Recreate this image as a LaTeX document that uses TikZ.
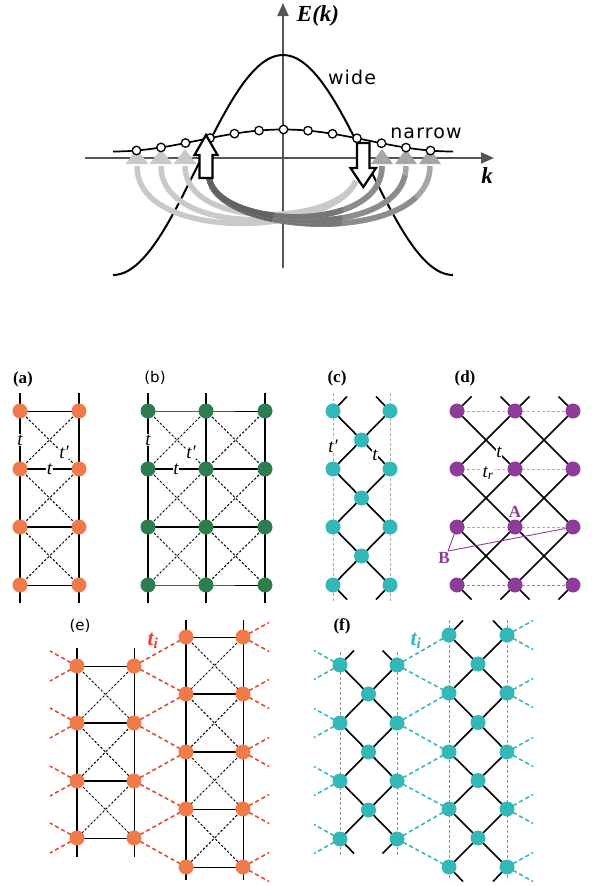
\documentclass[tikz,border=0pt]{standalone}
\usepackage{fontspec}
\setmainfont{Liberation Serif}
\newfontfamily\plotsans[LetterSpace=6]{DejaVu Sans}
\newfontfamily\lblsans{DejaVu Sans}
\usetikzlibrary{arrows.meta}
\pgfdeclarelayer{bg}
\pgfsetlayers{bg,main}
\definecolor{orng}{HTML}{F07A4A}
\definecolor{grn}{HTML}{2E7D4F}
\definecolor{cyn}{HTML}{33B7B7}
\definecolor{prp}{HTML}{8E3C99}
\definecolor{redd}{HTML}{E8452C}
\definecolor{axg}{HTML}{555555}
\definecolor{lgt}{HTML}{C9C9C9}
\definecolor{dk1}{HTML}{626262}
\definecolor{dk2}{HTML}{767676}
\definecolor{dk3}{HTML}{8C8C8C}
\definecolor{dk4}{HTML}{A6A6A6}
\tikzset{
  site/.style={circle, inner sep=0pt, minimum size=15pt, fill=#1, draw=none},
  ring/.style={circle, inner sep=0pt, minimum size=8.5pt, draw=black, line width=1.3pt, fill=white},
  rail/.style={line width=1.3pt},
  fatrail/.style={line width=2.2pt},
  thinrung/.style={line width=0.9pt},
  fatrung/.style={line width=1.9pt},
  midrung/.style={line width=1.2pt},
  xdash/.style={dash pattern=on 2.4pt off 1.8pt, line width=1pt},
  grayrail/.style={draw=gray!65, dash pattern=on 3pt off 2pt, line width=1pt},
  darkrail/.style={draw=gray!90, dash pattern=on 3pt off 2pt, line width=1pt},
  chainbond/.style={line width=1.6pt},
  ibond/.style={dash pattern=on 4pt off 3pt, line width=1.6pt},
  hop/.style={font=\itshape\fontsize{19}{19}\selectfont, inner sep=0.6pt},
  whop/.style={hop, fill=white},
  plabel/.style={font=\bfseries\fontsize{17}{17}\selectfont},
  slabel/.style={font=\lblsans\fontsize{15}{15}\selectfont},
  axisline/.style={draw=axg, line width=2pt, -{Triangle[length=13pt,width=11pt]}},
  curve/.style={line width=2pt},
  arcw/.style={line width=5.5pt},
  blockarrow/.style={draw=black, line width=2.2pt, fill=white, line join=miter},
}
\newcommand\darkarc[3]{%
  \foreach \col/\dp in {dk4/3000pt, dk3/230pt, dk2/150pt, dk1/80pt} {
    \draw[arcw, draw=\col, dash pattern=on \dp off 3000pt] (ua) .. controls (215,#1) and (#3,#2) .. (#3,166);
  }}
\begin{document}
\begin{tikzpicture}[x=1pt,y=-1pt]
\useasboundingbox (0,0) rectangle (596,886);

% ================= top plot =================
\coordinate (vB) at (283,268); \coordinate (vT) at (283,3);
\coordinate (hL) at (85,158); \coordinate (hR) at (494,158);
\draw[axisline] (vB) -- (vT);
\draw[axisline] (hL) -- (hR);
\draw[curve] plot[domain=113:453, samples=90, smooth] (\x,{165-110*cos(1.0588235*(\x-283))});
\node[font=\bfseries\itshape\fontsize{23}{23}\selectfont] (Ek) at (318,16) {E(k)};
\node[font=\bfseries\itshape\fontsize{23}{23}\selectfont] (klab) at (487,176) {k};
\node[font=\plotsans\fontsize{19}{19}\selectfont] (wide) at (352,77) {wide};
\node[font=\plotsans\fontsize{19}{19}\selectfont] (narrow) at (426,133) {narrow};

\coordinate (ua) at (209,177);
\coordinate (da) at (356,181);
% light arcs (down arrow -> left)
\draw[arcw, lgt] (da) .. controls (336,226) and (185,230) .. (185,166);
\draw[arcw, lgt] (da) .. controls (334,232) and (161,238) .. (161,166);
\draw[arcw, lgt] (da) .. controls (332,236) and (137,244) .. (137,166);
% dark arcs (up arrow -> right)
\darkarc{236}{247}{430}
\darkarc{232}{242}{406}
\darkarc{228}{236}{382}
\foreach \x in {137,161,185} \fill[lgt] ({\x-11.5},164) -- (\x,149) -- ({\x+11.5},164) -- cycle;
\foreach \x in {382,406,430} \fill[dk4] ({\x-11},164) -- (\x,149) -- ({\x+11},164) -- cycle;

\draw[line width=1.7pt] plot[domain=113:453, samples=60, smooth] (\x,{140.5-11*cos(1.0588235*(\x-283))});
\foreach \n in {-6,...,6} {
  \pgfmathsetmacro\cx{283.5+24.5*\n}
  \pgfmathsetmacro\cy{140.5-11*cos(1.0588235*(\cx-283))}
  \node[ring] (c\n) at (\cx,\cy) {};
}
\draw[blockarrow] (199.5,178) -- (199.5,155) -- (194.5,155) -- (206,135) -- (217.5,155) -- (212.5,155) -- (212.5,178) -- cycle;
\draw[blockarrow] (357,143) -- (369.5,143) -- (369.5,168) -- (376,168) -- (363.25,187) -- (350.5,168) -- (357,168) -- cycle;

% ================= (a) =================
\node[plabel] (la) at (23,379) {(a)};
\foreach \r [count=\i] in {411,469,527,585} {
  \node[site=orng] (aL\i) at (20,\r) {};
  \node[site=orng] (aR\i) at (79,\r) {};
}
\coordinate (aLt) at (20,393); \coordinate (aLb) at (20,603);
\coordinate (aRt) at (79,393); \coordinate (aRb) at (79,603);
\begin{pgfonlayer}{bg}
\draw[rail] (aLt) -- (aLb);
\draw[rail] (aRt) -- (aRb);
\foreach \i/\st in {1/thinrung,2/fatrung,3/fatrung,4/thinrung}
  \draw[\st] (aL\i.center) -- (aR\i.center);
\foreach \i in {1,2,3} {
  \pgfmathtruncatemacro\k{\i+1}
  \draw[xdash] (aL\i.center) -- (aR\k.center);
  \draw[xdash] (aR\i.center) -- (aL\k.center);
}
\end{pgfonlayer}
\node[whop] (at1) at (20,440) {t};
\node[whop] (at2) at (49.5,469) {t};
\node[whop] (at3) at (64,452) {t′};

% ================= (b) =================
\node[slabel] (lb) at (155,378) {(b)};
\foreach \r [count=\i] in {411,469,527,585} {
  \foreach \x [count=\j] in {148,206,265} {
    \node[site=grn] (b\j-\i) at (\x,\r) {};
  }
}
\foreach \x [count=\j] in {148,206,265} {
  \coordinate (bT\j) at (\x,393); \coordinate (bB\j) at (\x,603);
}
\begin{pgfonlayer}{bg}
\draw[rail] (bT1) -- (bB1);
\draw[fatrail] (bT2) -- (bB2);
\draw[rail] (bT3) -- (bB3);
\foreach \i/\st in {1/thinrung,2/fatrung,3/midrung,4/thinrung}
  \draw[\st] (b1-\i.center) -- (b2-\i.center) -- (b3-\i.center);
\foreach \i in {1,2,3} {
  \pgfmathtruncatemacro\k{\i+1}
  \foreach \j in {1,2} {
    \pgfmathtruncatemacro\m{\j+1}
    \draw[xdash] (b\j-\i.center) -- (b\m-\k.center);
    \draw[xdash] (b\m-\i.center) -- (b\j-\k.center);
  }
}
\end{pgfonlayer}
\node[whop] (bt1) at (148,440) {t};
\node[whop] (bt2) at (176,469) {t};
\node[whop] (bt3) at (191,452) {t′};

% ================= (c) =================
\node[plabel] (lc) at (337,378) {(c)};
\foreach \r [count=\i] in {411,469,527,585} {
  \node[site=cyn] (cL\i) at (333,\r) {};
  \node[site=cyn] (cR\i) at (390,\r) {};
}
\foreach \r [count=\i] in {440,498,556} {
  \node[site=cyn] (cM\i) at (361.5,\r) {};
}
\coordinate (cLt) at (333,393); \coordinate (cLb) at (333,603);
\coordinate (cRt) at (390,393); \coordinate (cRb) at (390,603);
\coordinate (cs1) at (347,396.5); \coordinate (cs2) at (376,396.5);
\coordinate (cs3) at (347,599.5); \coordinate (cs4) at (376,599.5);
\begin{pgfonlayer}{bg}
\draw[grayrail] (cLt) -- (cLb);
\draw[grayrail] (cRt) -- (cRb);
\foreach \i in {1,2,3} {
  \pgfmathtruncatemacro\k{\i+1}
  \draw[chainbond] (cL\i.center) -- (cM\i.center) -- (cR\k.center);
  \draw[chainbond] (cR\i.center) -- (cM\i.center) -- (cL\k.center);
}
\draw[chainbond] (cL1.center) -- (cs1);
\draw[chainbond] (cR1.center) -- (cs2);
\draw[chainbond] (cL4.center) -- (cs3);
\draw[chainbond] (cR4.center) -- (cs4);
\end{pgfonlayer}
\node[whop] (ct1) at (333,446) {t′};
\node[whop] (ct2) at (375,455) {t};

% ================= (d) =================
\node[plabel] (ld) at (465,378) {(d)};
\foreach \r [count=\i] in {411,469,527,585} {
  \foreach \x [count=\j] in {457,515,573} {
    \node[site=prp] (d\j-\i) at (\x,\r) {};
  }
}
\coordinate (ds1) at (471.5,396.5); \coordinate (ds2) at (500.5,396.5);
\coordinate (ds3) at (529.5,396.5); \coordinate (ds4) at (558.5,396.5);
\coordinate (ds5) at (471.5,599.5); \coordinate (ds6) at (500.5,599.5);
\coordinate (ds7) at (529.5,599.5); \coordinate (ds8) at (558.5,599.5);
\begin{pgfonlayer}{bg}
\foreach \i in {1,2,3}
  \draw[grayrail] (d1-\i.center) -- (d2-\i.center) -- (d3-\i.center);
\draw[darkrail] (d1-4.center) -- (d2-4.center) -- (d3-4.center);
\foreach \i in {1,2,3} {
  \pgfmathtruncatemacro\k{\i+1}
  \foreach \j in {1,2} {
    \pgfmathtruncatemacro\m{\j+1}
    \draw[chainbond] (d\j-\i.center) -- (d\m-\k.center);
    \draw[chainbond] (d\m-\i.center) -- (d\j-\k.center);
  }
}
\draw[chainbond] (d1-1.center) -- (ds1);
\draw[chainbond] (d2-1.center) -- (ds2);
\draw[chainbond] (d2-1.center) -- (ds3);
\draw[chainbond] (d3-1.center) -- (ds4);
\draw[chainbond] (d1-4.center) -- (ds5);
\draw[chainbond] (d2-4.center) -- (ds6);
\draw[chainbond] (d2-4.center) -- (ds7);
\draw[chainbond] (d3-4.center) -- (ds8);
\end{pgfonlayer}
\node[whop] (dt1) at (499,452) {t};
\node[whop] (dt2) at (488,473) {t\textsubscript{\itshape r}};
\node[font=\bfseries\fontsize{17}{17}\selectfont, text=prp, inner sep=0.5pt] (Alab) at (515,512) {A};
\node[font=\bfseries\fontsize{17}{17}\selectfont, text=prp, inner sep=0.5pt] (Blab) at (444,558) {B};
\coordinate (Bpt) at (448,551);
\draw[prp, line width=0.9pt] (Bpt) -- (d1-3);
\draw[prp, line width=0.9pt] (Bpt) -- (d3-3);

% ================= (e) =================
\node[slabel] (le) at (80,626) {(e)};
\foreach \r [count=\i] in {666,723,781,838} {
  \node[site=orng] (eA\i) at (77,\r) {};
  \node[site=orng] (eB\i) at (134,\r) {};
  \coordinate (eAu\i) at (50,{\r-15});
  \coordinate (eAd\i) at (50,{\r+15});
}
\foreach \r [count=\i] in {637,694,752,809,867} {
  \node[site=orng] (eC\i) at (186,\r) {};
  \node[site=orng] (eD\i) at (243,\r) {};
  \coordinate (eDu\i) at (269,{\r-14.5});
  \coordinate (eDd\i) at (269,{\r+14.5});
}
\coordinate (eAt) at (77,648); \coordinate (eAb) at (77,857);
\coordinate (eBt) at (134,648); \coordinate (eBb) at (134,857);
\coordinate (eCt) at (186,620); \coordinate (eCb) at (186,880);
\coordinate (eDt) at (243,620); \coordinate (eDb) at (243,880);
\begin{pgfonlayer}{bg}
\draw[fatrail] (eAt) -- (eAb);
\draw[thinrung] (eBt) -- (eBb);
\draw[fatrail] (eCt) -- (eCb);
\draw[thinrung] (eDt) -- (eDb);
\foreach \i/\st in {1/thinrung,2/fatrung,3/fatrung,4/thinrung}
  \draw[\st] (eA\i.center) -- (eB\i.center);
\foreach \i/\st in {1/thinrung,2/fatrung,3/fatrung,4/thinrung,5/thinrung}
  \draw[\st] (eC\i.center) -- (eD\i.center);
\foreach \i in {1,2,3} {
  \pgfmathtruncatemacro\k{\i+1}
  \draw[xdash] (eA\i.center) -- (eB\k.center);
  \draw[xdash] (eB\i.center) -- (eA\k.center);
}
\foreach \i in {1,2,3,4} {
  \pgfmathtruncatemacro\k{\i+1}
  \draw[xdash] (eC\i.center) -- (eD\k.center);
  \draw[xdash] (eD\i.center) -- (eC\k.center);
  \draw[ibond, redd] (eB\i.center) -- (eC\i.center);
  \draw[ibond, redd] (eB\i.center) -- (eC\k.center);
  \draw[ibond, redd] (eA\i.center) -- (eAu\i);
  \draw[ibond, redd] (eA\i.center) -- (eAd\i);
}
\foreach \i in {1,...,5} {
  \draw[ibond, redd] (eD\i.center) -- (eDu\i);
  \draw[ibond, redd] (eD\i.center) -- (eDd\i);
}
\end{pgfonlayer}
\node[font=\bfseries\itshape\fontsize{22}{22}\selectfont, text=redd] (eti) at (153,641) {t\textsubscript{i}};

% ================= (f) =================
\node[plabel] (lf) at (342,626) {(f)};
\foreach \r [count=\i] in {665,723,781,839} {
  \node[site=cyn] (fL\i) at (340,\r) {};
  \node[site=cyn] (fR\i) at (397,\r) {};
  \coordinate (fLu\i) at (314,{\r-14.5});
  \coordinate (fLd\i) at (314,{\r+14.5});
}
\foreach \r [count=\i] in {694,752,810} {
  \node[site=cyn] (fM\i) at (368.5,\r) {};
}
\foreach \r [count=\i] in {635,693,752,809,867} {
  \node[site=cyn] (gL\i) at (449,\r) {};
  \node[site=cyn] (gR\i) at (507,\r) {};
  \coordinate (gRu\i) at (533,{\r-14.5});
  \coordinate (gRd\i) at (533,{\r+14.5});
}
\foreach \r [count=\i] in {664,722.5,780.5,838} {
  \node[site=cyn] (gM\i) at (478,\r) {};
}
\coordinate (fLt) at (340,652); \coordinate (fLb) at (340,857);
\coordinate (fRt) at (397,652); \coordinate (fRb) at (397,857);
\coordinate (gLt) at (449,620); \coordinate (gLb) at (449,880);
\coordinate (gRt) at (507,620); \coordinate (gRb) at (507,880);
\coordinate (fs1) at (354,650.5); \coordinate (fs2) at (382.5,650.5);
\coordinate (fs3) at (354,853.5); \coordinate (fs4) at (382.5,853.5);
\coordinate (gs1) at (463,620.5); \coordinate (gs2) at (493,620.5);
\coordinate (gs3) at (463,881.5); \coordinate (gs4) at (493,881.5);
\begin{pgfonlayer}{bg}
\draw[darkrail] (fLt) -- (fLb);
\draw[darkrail] (fRt) -- (fRb);
\draw[darkrail] (gLt) -- (gLb);
\draw[darkrail] (gRt) -- (gRb);
\foreach \i in {1,2,3} {
  \pgfmathtruncatemacro\k{\i+1}
  \draw[chainbond] (fL\i.center) -- (fM\i.center) -- (fR\k.center);
  \draw[chainbond] (fR\i.center) -- (fM\i.center) -- (fL\k.center);
}
\foreach \i in {1,2,3,4} {
  \pgfmathtruncatemacro\k{\i+1}
  \draw[chainbond] (gL\i.center) -- (gM\i.center) -- (gR\k.center);
  \draw[chainbond] (gR\i.center) -- (gM\i.center) -- (gL\k.center);
  \draw[ibond, cyn] (fR\i.center) -- (gL\i.center);
  \draw[ibond, cyn] (fR\i.center) -- (gL\k.center);
  \draw[ibond, cyn] (fL\i.center) -- (fLu\i);
  \draw[ibond, cyn] (fL\i.center) -- (fLd\i);
}
\foreach \i in {1,...,5} {
  \draw[ibond, cyn] (gR\i.center) -- (gRu\i);
  \draw[ibond, cyn] (gR\i.center) -- (gRd\i);
}
\draw[chainbond] (fL1.center) -- (fs1);
\draw[chainbond] (fR1.center) -- (fs2);
\draw[chainbond] (fL4.center) -- (fs3);
\draw[chainbond] (fR4.center) -- (fs4);
\draw[chainbond] (gL1.center) -- (gs1);
\draw[chainbond] (gR1.center) -- (gs2);
\draw[chainbond] (gL5.center) -- (gs3);
\draw[chainbond] (gR5.center) -- (gs4);
\end{pgfonlayer}
\node[font=\bfseries\itshape\fontsize{22}{22}\selectfont, text=cyn] (fti) at (416,641) {t\textsubscript{i}};
\end{tikzpicture}
\end{document}
